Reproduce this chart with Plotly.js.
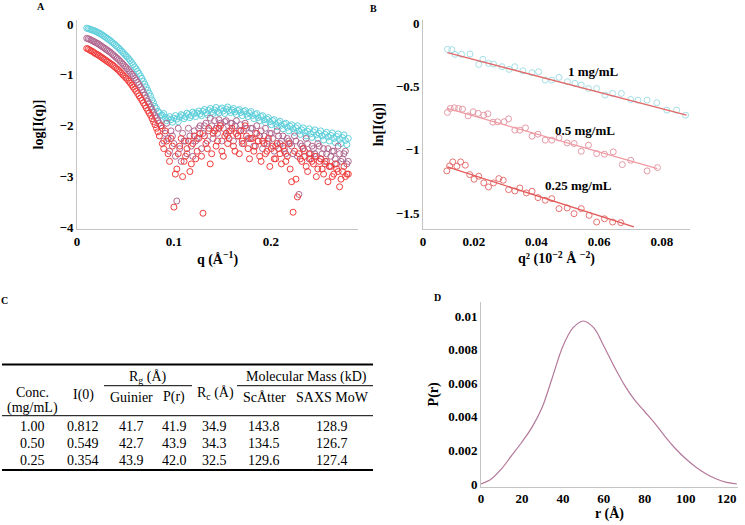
<!DOCTYPE html>
<html><head><meta charset="utf-8">
<script src="https://cdn.plot.ly/plotly-3.0.1.min.js"></script>
<style>html,body{margin:0;padding:0;background:#fff}#chart{width:745px;height:525px}</style>
</head><body><div id="chart"></div>
<script>
// ---- Panel A: log I(q) vs q (two interleaved sets of read points per concentration) ----
const qA = [0.010,0.013,0.016,0.019,0.022,0.025,0.028,0.031,0.034,0.037,
0.040,0.043,0.046,0.049,0.052,0.055,0.058,0.061,0.064,0.067,
0.070,0.073,0.076,0.079,0.082,0.085,0.088,0.091,0.094,0.097,
0.100,0.103,0.106,0.109,0.112,0.115,0.118,0.121,0.124,0.127,
0.130,0.133,0.136,0.139,0.142,0.145,0.148,0.151,0.154,0.157,
0.160,0.163,0.166,0.169,0.172,0.175,0.178,0.181,0.184,0.187,
0.190,0.193,0.196,0.199,0.202,0.205,0.208,0.211,0.214,0.217,
0.220,0.223,0.226,0.229,0.232,0.235,0.238,0.241,0.244,0.247,
0.250,0.253,0.256,0.259,0.262,0.265,0.268,0.271,0.274,0.277,
0.280];
const logI_1 = [-0.08,-0.10,-0.12,-0.14,-0.17,-0.20,-0.24,-0.28,-0.32,-0.37,
-0.42,-0.47,-0.53,-0.59,-0.65,-0.72,-0.80,-0.88,-0.97,-1.07,
-1.18,-1.30,-1.42,-1.55,-1.66,-1.74,-1.79,-1.84,-1.86,-1.88,
-1.85,-1.87,-1.83,-1.80,-1.82,-1.78,-1.80,-1.76,-1.75,-1.77,
-1.72,-1.74,-1.70,-1.73,-1.69,-1.72,-1.68,-1.71,-1.67,-1.70,
-1.69,-1.73,-1.70,-1.74,-1.72,-1.77,-1.75,-1.80,-1.78,-1.84,
-1.82,-1.88,-1.87,-1.92,-1.90,-1.96,-1.94,-1.99,-1.97,-2.03,
-2.01,-2.06,-2.04,-2.10,-2.08,-2.13,-2.11,-2.16,-2.12,-2.18,
-2.15,-2.20,-2.17,-2.22,-2.19,-2.25,-2.21,-2.27,-2.23,-2.29,
-2.25];
const logI_05 = [-0.28,-0.30,-0.33,-0.36,-0.39,-0.43,-0.47,-0.51,-0.55,-0.60,
-0.65,-0.70,-0.76,-0.82,-0.88,-0.95,-1.02,-1.10,-1.19,-1.29,
-1.40,-1.52,-1.63,-1.74,-1.85,-1.95,-2.05,-2.15,-2.25,-2.10,
-2.35,-3.48,-2.45,-2.15,-2.30,-2.05,-2.40,-2.10,-2.25,-2.00,
-2.15,-1.95,-2.10,-2.00,-1.90,-2.15,-1.95,-2.05,-1.90,-2.10,
-1.95,-2.00,-2.20,-1.98,-2.10,-2.05,-2.25,-2.05,-2.15,-2.30,
-2.10,-2.20,-2.35,-2.15,-2.25,-2.40,-2.20,-2.30,-2.45,-2.25,
-2.35,-2.55,-2.30,-3.35,-2.40,-2.50,-2.35,-2.55,-2.45,-2.60,
-2.40,-2.55,-2.70,-2.45,-2.60,-2.50,-2.75,-2.55,-2.65,-2.50,
-2.70];
const logI_025 = [-0.48,-0.51,-0.54,-0.58,-0.61,-0.65,-0.69,-0.73,-0.77,-0.81,
-0.86,-0.91,-0.97,-1.03,-1.09,-1.16,-1.24,-1.32,-1.41,-1.50,
-1.60,-1.70,-1.80,-1.92,-2.05,-2.20,-2.35,-2.10,-2.55,-2.25,
-3.60,-2.85,-2.40,-3.00,-2.60,-2.30,-2.75,-2.20,-2.50,-2.15,
-3.72,-2.35,-2.05,-2.55,-2.10,-2.30,-2.00,-2.60,-2.15,-2.25,
-2.05,-2.50,-2.20,-2.10,-2.35,-2.20,-2.65,-2.25,-2.40,-2.30,
-2.70,-2.35,-2.50,-2.80,-2.40,-2.65,-2.45,-2.75,-2.50,-2.60,
-2.85,-3.70,-3.05,-2.55,-2.70,-2.60,-2.90,-2.65,-2.75,-3.00,
-2.70,-2.85,-2.75,-3.10,-2.80,-2.95,-2.85,-3.20,-2.90,-3.00,
-2.95];
const qA2 = [0.0115,0.0145,0.0175,0.0205,0.0235,0.0265,0.0295,0.0325,0.0355,0.0385,
0.0415,0.0445,0.0475,0.0505,0.0535,0.0565,0.0595,0.0625,0.0655,0.0685,
0.0715,0.0745,0.0775,0.0805,0.0835,0.0865,0.0895,0.0925,0.0955,0.0985,
0.1015,0.1045,0.1075,0.1105,0.1135,0.1165,0.1195,0.1225,0.1255,0.1285,
0.1315,0.1345,0.1375,0.1405,0.1435,0.1465,0.1495,0.1525,0.1555,0.1585,
0.1615,0.1645,0.1675,0.1705,0.1735,0.1765,0.1795,0.1825,0.1855,0.1885,
0.1915,0.1945,0.1975,0.2005,0.2035,0.2065,0.2095,0.2125,0.2155,0.2185,
0.2215,0.2245,0.2275,0.2305,0.2335,0.2365,0.2395,0.2425,0.2455,0.2485,
0.2515,0.2545,0.2575,0.2605,0.2635,0.2665,0.2695,0.2725,0.2755,0.2785];
const logI_1b = [-0.09,-0.11,-0.13,-0.155,-0.185,-0.22,-0.26,-0.30,-0.345,-0.395,
-0.445,-0.50,-0.56,-0.62,-0.685,-0.76,-0.84,-0.925,-1.02,-1.125,
-1.24,-1.36,-1.49,-1.62,-1.72,-1.80,-1.76,-1.90,-1.82,-1.93,
-1.80,-1.92,-1.78,-1.86,-1.75,-1.84,-1.73,-1.82,-1.71,-1.80,
-1.68,-1.78,-1.66,-1.76,-1.64,-1.75,-1.65,-1.76,-1.63,-1.74,
-1.66,-1.78,-1.68,-1.80,-1.70,-1.82,-1.72,-1.86,-1.76,-1.90,
-1.80,-1.94,-1.84,-1.98,-1.88,-2.02,-1.91,-2.06,-1.95,-2.10,
-1.98,-2.13,-2.00,-2.17,-2.04,-2.20,-2.06,-2.23,-2.08,-2.25,
-2.10,-2.28,-2.13,-2.30,-2.14,-2.33,-2.16,-2.35,-2.18,-2.37];
const logI_05b = [-0.29,-0.315,-0.345,-0.375,-0.41,-0.45,-0.49,-0.53,-0.575,-0.625,
-0.675,-0.73,-0.79,-0.85,-0.915,-0.985,-1.06,-1.145,-1.24,-1.345,
-1.46,-1.57,-1.68,-1.80,-1.90,-2.00,-2.30,-1.95,-2.50,-2.20,
-2.60,-2.05,-2.70,-2.30,-2.55,-2.20,-2.60,-2.30,-2.05,-2.45,
-2.00,-2.30,-1.85,-2.25,-2.05,-1.88,-2.30,-1.92,-2.20,-1.95,
-2.30,-1.90,-2.10,-2.35,-1.95,-2.25,-2.05,-2.40,-2.00,-2.20,
-2.45,-2.05,-2.30,-2.15,-2.50,-2.10,-2.35,-2.20,-2.55,-2.30,
-2.40,-2.20,-2.60,-2.35,-2.45,-2.25,-2.65,-2.40,-2.55,-2.35,
-2.65,-2.45,-2.55,-2.80,-2.50,-2.65,-2.40,-2.70,-2.55,-2.75];
const logI_025b = [-0.49,-0.525,-0.56,-0.595,-0.63,-0.67,-0.71,-0.75,-0.79,-0.835,
-0.885,-0.94,-1.00,-1.06,-1.125,-1.20,-1.28,-1.365,-1.455,-1.55,
-1.65,-1.75,-1.86,-1.98,-2.12,-2.00,-2.45,-2.30,-2.70,-2.40,
-2.95,-2.55,-2.25,-2.70,-2.45,-2.90,-2.35,-2.65,-2.25,-2.60,
-2.20,-2.45,-2.75,-2.15,-2.40,-2.05,-2.50,-2.20,-2.35,-2.10,
-2.40,-2.15,-2.55,-2.30,-2.00,-2.45,-2.25,-2.50,-2.15,-2.60,
-2.30,-2.55,-2.25,-2.45,-2.65,-2.35,-2.55,-2.40,-2.70,-2.35,
-3.10,-2.50,-3.40,-2.65,-2.45,-2.80,-2.55,-2.70,-2.60,-2.85,
-2.65,-2.95,-2.70,-2.80,-3.00,-2.75,-2.90,-3.05,-2.80,-2.95];

// ---- Panel B: Guinier plots ----
const q2_1 = [0.0116,0.0130,0.0140,0.0161,0.0188,0.0216,0.0229,0.0247,0.0263,0.0290,0.0313,0.0331,0.0357,0.0386,0.0407,0.0428,0.0449,0.0472,0.0499,0.0523,0.0543,0.0566,0.0592,0.0619,0.0643,0.0671,0.0701,0.0724,0.0753,0.0784,0.0816,0.0847,0.0876];
const lnI_1 = [-0.206,-0.208,-0.245,-0.245,-0.243,-0.325,-0.285,-0.317,-0.322,-0.343,-0.364,-0.343,-0.375,-0.390,-0.383,-0.449,-0.449,-0.427,-0.462,-0.475,-0.488,-0.515,-0.515,-0.567,-0.554,-0.554,-0.602,-0.607,-0.607,-0.628,-0.686,-0.686,-0.726];
const q2_05 = [0.0116,0.0125,0.0138,0.0151,0.0164,0.0182,0.0198,0.0214,0.0232,0.0245,0.0261,0.0276,0.0297,0.0311,0.0331,0.0347,0.0365,0.0386,0.0405,0.0428,0.0449,0.0472,0.0498,0.0520,0.0543,0.0566,0.0592,0.0617,0.0645,0.0674,0.0701,0.0753,0.0786];
const lnI_05 = [-0.704,-0.673,-0.668,-0.673,-0.678,-0.731,-0.699,-0.712,-0.726,-0.715,-0.781,-0.778,-0.778,-0.755,-0.844,-0.844,-0.826,-0.892,-0.876,-0.923,-0.923,-0.905,-0.945,-0.950,-1.011,-0.963,-1.029,-1.034,-1.016,-1.116,-1.082,-1.166,-1.140];
const q2_025 = [0.0114,0.0123,0.0133,0.0146,0.0158,0.0173,0.0187,0.0201,0.0216,0.0232,0.0247,0.0263,0.0280,0.0294,0.0311,0.0331,0.0347,0.0368,0.0386,0.0405,0.0428,0.0449,0.0472,0.0498,0.0520,0.0543,0.0568,0.0592,0.0617,0.0643,0.0669];
const lnI_025 = [-1.166,-1.127,-1.095,-1.129,-1.095,-1.121,-1.195,-1.232,-1.208,-1.261,-1.293,-1.261,-1.227,-1.240,-1.314,-1.325,-1.301,-1.340,-1.327,-1.377,-1.398,-1.385,-1.464,-1.459,-1.504,-1.464,-1.517,-1.570,-1.544,-1.570,-1.575];
const fit1 = {x:[0.0116,0.0879], y:[-0.232,-0.726]};
const fit05 = {x:[0.0116,0.0786], y:[-0.673,-1.148]};
const fit025 = {x:[0.0116,0.0711], y:[-1.135,-1.609]};
const guinierLabels = ['1 mg/mL','0.5 mg/mL','0.25 mg/mL'];
const bTickVals = [0.0038,0.02,0.04,0.06,0.08];
const bTickText = ['0','0.02','0.04','0.06','0.08'];

// ---- Panel C: table ----
const colConc = ['1.00','0.50','0.25'];
const colI0 = ['0.812','0.549','0.354'];
const colGuinier = ['41.7','42.7','43.9'];
const colPr = ['41.9','43.9','42.0'];
const colRc = ['34.9','34.3','32.5'];
const colScatter = ['143.8','134.5','129.6'];
const colMoW = ['128.9','126.7','127.4'];

// ---- Panel D: P(r) ----
const rD = [0,5,10,15,20,25,30,35,40,45,50,55,60,65,70,75,80,85,90,95,100,105,110,115,120,125];
const pD = [0,0.0003,0.0009,0.0017,0.0025,0.0034,0.0046,0.0064,0.0082,0.0093,0.0097,0.0093,0.0082,0.0070,0.0059,0.0050,0.0043,0.0036,0.0028,0.0021,0.0015,0.0010,0.0006,0.0003,0.0001,0];

const W = 745, H = 525;
const px = v => v / W;
const py = v => 1 - v / H;
const serif = 'Liberation Serif, Times New Roman, serif';
const tf = {family: serif, size: 13, color: '#000', weight: 'bold'};
const ttl = {family: serif, size: 14, color: '#000', weight: 'bold'};

const openMk = (c, s) => ({symbol: 'circle-open', size: s, color: c, line: {width: 1, color: c}});
const cCyan = '#5fd0dc', cMauve = '#b06890', cRed = '#f03c3c';

const traces = [
  {x: qA, y: logI_1, type: 'scatter', mode: 'markers', marker: openMk(cCyan, 6), xaxis: 'x', yaxis: 'y'},
  {x: qA2, y: logI_1b, type: 'scatter', mode: 'markers', marker: openMk(cCyan, 6), xaxis: 'x', yaxis: 'y'},
  {x: qA, y: logI_05, type: 'scatter', mode: 'markers', marker: openMk(cMauve, 6), xaxis: 'x', yaxis: 'y'},
  {x: qA2, y: logI_05b, type: 'scatter', mode: 'markers', marker: openMk(cMauve, 6), xaxis: 'x', yaxis: 'y'},
  {x: qA, y: logI_025, type: 'scatter', mode: 'markers', marker: openMk(cRed, 6), xaxis: 'x', yaxis: 'y'},
  {x: qA2, y: logI_025b, type: 'scatter', mode: 'markers', marker: openMk(cRed, 6), xaxis: 'x', yaxis: 'y'},
  {x: q2_1, y: lnI_1, type: 'scatter', mode: 'markers', marker: openMk('#a4dfe6', 6), xaxis: 'x2', yaxis: 'y2'},
  {x: q2_05, y: lnI_05, type: 'scatter', mode: 'markers', marker: openMk('#e59aa6', 6), xaxis: 'x2', yaxis: 'y2'},
  {x: q2_025, y: lnI_025, type: 'scatter', mode: 'markers', marker: openMk('#e77272', 6), xaxis: 'x2', yaxis: 'y2'},
  {x: fit1.x, y: fit1.y, type: 'scatter', mode: 'lines', line: {color: '#e06a6a', width: 1.3}, xaxis: 'x2', yaxis: 'y2'},
  {x: fit05.x, y: fit05.y, type: 'scatter', mode: 'lines', line: {color: '#ef9aa2', width: 1.3}, xaxis: 'x2', yaxis: 'y2'},
  {x: fit025.x, y: fit025.y, type: 'scatter', mode: 'lines', line: {color: '#e25a5a', width: 1.3}, xaxis: 'x2', yaxis: 'y2'},
  {x: rD, y: pD, type: 'scatter', mode: 'lines', line: {color: '#b4789a', width: 1.2, shape: 'spline'}, xaxis: 'x3', yaxis: 'y3'}
];

const axBase = {showline: true, linecolor: '#c4c4c4', linewidth: 1, showgrid: false, zeroline: false, ticks: '', tickfont: tf, fixedrange: true};

const annotations = [];
const shapes = [];
const addText = (t, x, y, opts = {}) => annotations.push(Object.assign({
  text: t, x: px(x), y: py(y), xref: 'paper', yref: 'paper', showarrow: false,
  xanchor: 'center', yanchor: 'middle', font: {family: serif, size: 14, color: '#000'}
}, opts));

const letterFont = {family: serif, size: 10, color: '#000', weight: 'bold'};
addText('A', 41, 6, {font: letterFont});
addText('B', 373, 8, {font: letterFont});
addText('C', 4, 300, {font: letterFont});
addText('D', 437, 297, {font: letterFont});

const bLabelPos = [[593, 72], [585, 130], [578, 185]];
guinierLabels.forEach((t, i) => addText(t, bLabelPos[i][0], bLabelPos[i][1], {font: {family: serif, size: 13, color: '#000', weight: 'bold'}}));

const hl = (x0, x1, y, w) => shapes.push({type: 'line', xref: 'paper', yref: 'paper', x0: px(x0), x1: px(x1), y0: py(y), y1: py(y), line: {color: '#000', width: w}});
hl(2, 373, 364.5, 2);
hl(104, 192, 385.7, 1);
hl(237, 373, 385.7, 1);
hl(2, 373, 415.7, 1);
hl(2, 373, 470, 2);
addText('R<sub>g</sub> (Å)', 148, 377);
addText('Molecular Mass (kD)', 306, 377);
addText('Conc.', 32, 392);
addText('(mg/mL)', 32, 408);
addText('I(0)', 83, 395);
addText('Guinier', 131, 397);
addText('P(r)', 174, 397);
addText('R<sub>c</sub> (Å)', 215, 393);
addText('ScÅtter', 264, 397);
addText('SAXS MoW', 332, 397);
const rowY = [426, 443.3, 460.7];
const cols = [[colConc, 32], [colI0, 83], [colGuinier, 131], [colPr, 174], [colRc, 214], [colScatter, 264], [colMoW, 332]];
cols.forEach(([arr, cx]) => arr.forEach((v, i) => addText(v, cx, rowY[i])));

const layout = {
  width: W, height: H, margin: {l: 0, r: 0, t: 0, b: 0},
  paper_bgcolor: '#fff', plot_bgcolor: '#fff', showlegend: false,
  font: {family: serif, size: 13, color: '#000'},
  xaxis: Object.assign({}, axBase, {domain: [px(77), px(358)], range: [0, 0.29], dtick: 0.1, anchor: 'y',
    title: {text: 'q (Å<sup>−1</sup>)', font: ttl, standoff: 6}}),
  yaxis: Object.assign({}, axBase, {domain: [py(229), py(20)], range: [-4.03, 0.08], dtick: 1, anchor: 'x',
    title: {text: 'log[I(q)]', font: ttl, standoff: 12}}),
  xaxis2: Object.assign({}, axBase, {domain: [px(423), px(690)], range: [0.0038, 0.089], tickvals: bTickVals, ticktext: bTickText, anchor: 'y2',
    title: {text: 'q² (10<sup>−2</sup> Å <sup>−2</sup>)', font: ttl, standoff: 3}}),
  yaxis2: Object.assign({}, axBase, {domain: [py(229), py(20)], range: [-1.625, 0.026], tickvals: [0, -0.5, -1, -1.5], anchor: 'x2',
    title: {text: 'ln[I(q)]', font: ttl, standoff: 8}}),
  xaxis3: Object.assign({}, axBase, {domain: [px(481), px(738)], range: [0, 125.5], dtick: 20, anchor: 'y3',
    title: {text: 'r (Å)', font: ttl, standoff: 2}}),
  yaxis3: Object.assign({}, axBase, {domain: [py(486.7), py(302)], range: [-0.00016, 0.01083], dtick: 0.002, anchor: 'x3',
    title: {text: 'P(r)', font: ttl, standoff: 6}}),
  annotations: annotations,
  shapes: shapes
};

Plotly.newPlot('chart', traces, layout, {displayModeBar: false, staticPlot: true});
</script>
</body></html>
